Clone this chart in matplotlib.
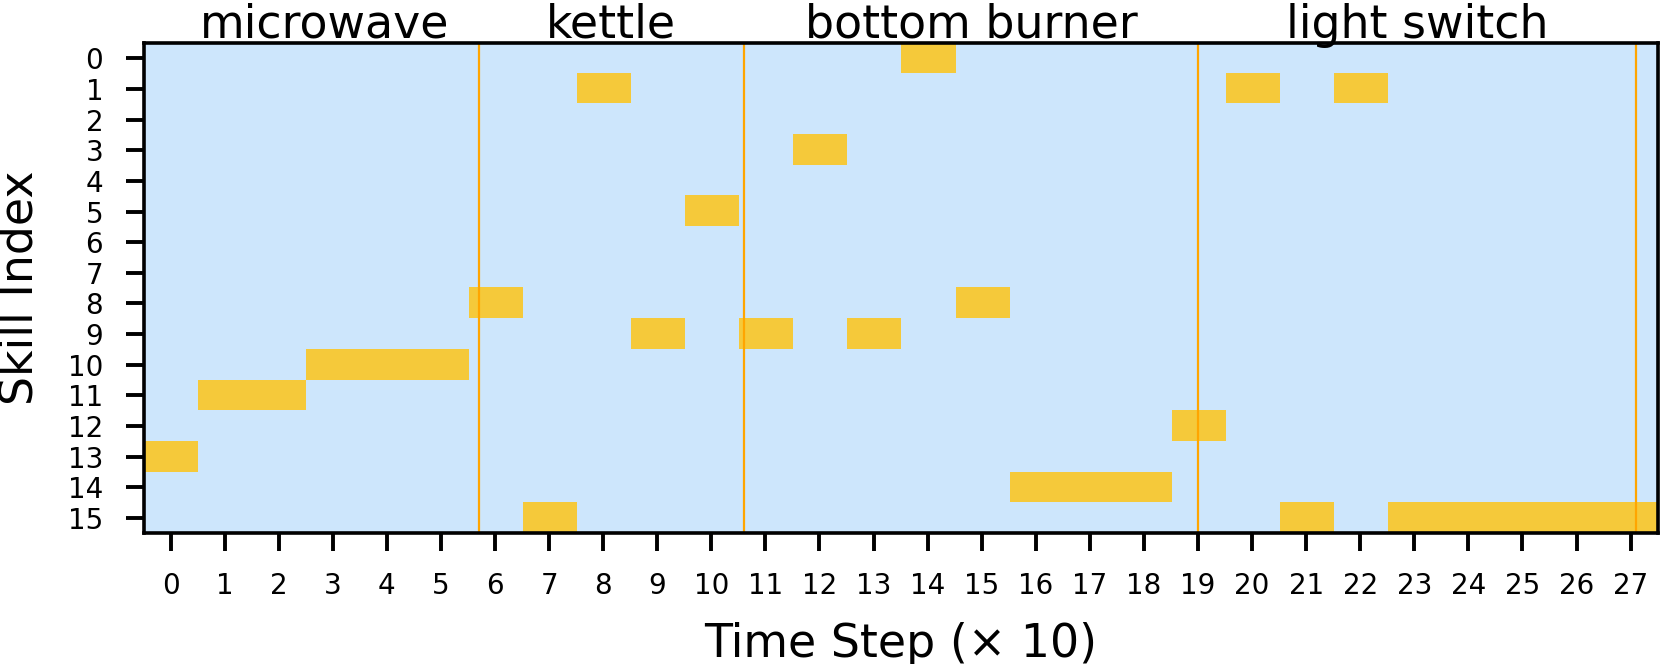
import numpy as np
import matplotlib
matplotlib.use("Agg")
import matplotlib.pyplot as plt
from matplotlib.colors import ListedColormap
import matplotlib.transforms as mtransforms

# Data
time_steps = list(range(28))
active_skill = [13, 11, 11, 10, 10, 10, 8, 15, 1, 9, 5, 9, 3, 9, 0, 8,
                14, 14, 14, 12, 1, 15, 1, 15, 15, 15, 15, 15]
n_skills = 16
task_names = ["microwave", "kettle", "bottom burner", "light switch"]
task_bounds = [0.0, 5.7, 10.6, 19.0, 27.1]

mat = np.zeros((n_skills, len(time_steps)))
for t, s in zip(time_steps, active_skill):
    mat[s, t] = 1

plt.rcParams['font.family'] = ['DejaVu Sans']
fig = plt.figure(figsize=(16.61, 6.64), dpi=100)
ax = fig.add_axes([0.0864, 0.197, 0.998 - 0.0864, 0.935 - 0.197])

cmap = ListedColormap(["#CDE6FC", "#F5C93A"])
ax.imshow(mat, cmap=cmap, aspect='auto', interpolation='nearest', vmin=0, vmax=1)

for b in task_bounds[1:]:
    ax.axvline(b, color='#FFA500', lw=1.6)

trans = mtransforms.blended_transform_factory(ax.transData, ax.transAxes)
offset = mtransforms.ScaledTranslation(0, 4 / 72, fig.dpi_scale_trans)
for i, name in enumerate(task_names):
    xc = (task_bounds[i] + task_bounds[i + 1]) / 2
    ax.text(xc, 1.0, name, transform=trans + offset, ha='center', va='baseline',
            fontsize=33)

ax.set_xticks(time_steps)
ax.set_xticklabels([str(t) for t in time_steps])
ax.set_yticks(range(n_skills))
ax.set_yticklabels([str(s) for s in range(n_skills)])
ax.tick_params(axis='both', labelsize=20, length=13, width=2.8)
ax.tick_params(axis='x', pad=15)
ax.tick_params(axis='y', pad=16)
for sp in ax.spines.values():
    sp.set_linewidth(2.6)

ax.set_xlabel("Time Step (× 10)", fontsize=33, labelpad=16)
ax.set_ylabel("Skill Index", fontsize=33, labelpad=18)

fig.savefig("out.png", dpi=100)
